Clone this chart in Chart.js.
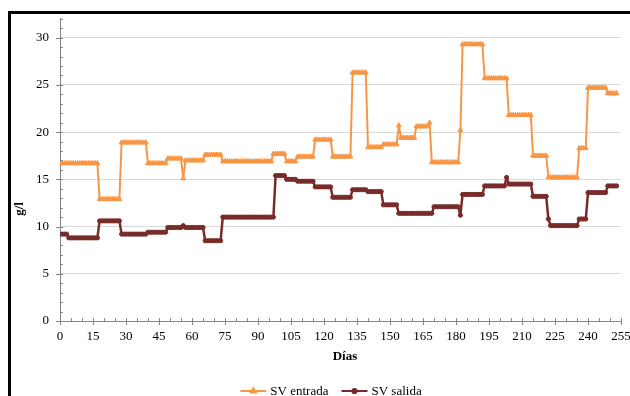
<!DOCTYPE html>
<html>
<head>
<meta charset="utf-8">
<script src="https://cdn.jsdelivr.net/npm/chart.js@4.4.1/dist/chart.umd.min.js"></script>
<style>
  html, body { margin: 0; padding: 0; background: #fff; }
  #wrap { position: relative; width: 630px; height: 396px; overflow: hidden; }
  #frame { position: absolute; left: 8px; top: 11px; width: 640px; height: 400px;
           border-left: 3px solid #000; border-top: 3px solid #000; box-sizing: border-box; }
  #c { position: absolute; left: 0; top: 0; }
</style>
</head>
<body>
<div id="wrap">
  <div id="frame"></div>
  <canvas id="c" width="630" height="396" style="width:630px;height:396px"></canvas>
</div>
<script>
// Días de operación
const dias = [
  0,1,2,3,4,5,6,7,8,9,10,11,12,13,14,15,16,17,18,19,
  20,21,22,23,24,25,26,27,28,29,30,31,32,33,34,35,36,37,38,39,
  40,41,42,43,44,45,46,47,48,49,50,51,52,53,54,55,56,57,58,59,
  60,61,62,63,64,65,66,67,68,69,70,71,72,73,74,75,76,77,78,79,
  80,81,82,83,84,85,86,87,88,89,90,91,92,93,94,95,96,97,98,99,
  100,101,102,103,104,105,106,107,108,109,110,111,112,113,114,115,116,117,118,119,
  120,121,122,123,124,125,126,127,128,129,130,131,132,133,134,135,136,137,138,139,
  140,141,142,143,144,145,146,147,148,149,150,151,152,153,154,155,156,157,158,159,
  160,161,162,163,164,165,166,167,168,169,170,171,172,173,174,175,176,177,178,179,
  180,181,182,183,184,185,186,187,188,189,190,191,192,193,194,195,196,197,198,199,
  200,201,202,203,204,205,206,207,208,209,210,211,212,213,214,215,216,217,218,219,
  220,221,222,223,224,225,226,227,228,229,230,231,232,233,234,235,236,237,238,239,
  240,241,242,243,244,245,246,247,248,249,250,251,252,253
];

// Sólidos volátiles a la entrada (g/l)
const svEntrada = [
  16.7,16.7,16.7,16.7,16.7,16.7,16.7,16.7,16.7,16.7,
  16.7,16.7,16.7,16.7,16.7,16.7,16.7,16.7,12.9,12.9,
  12.9,12.9,12.9,12.9,12.9,12.9,12.9,12.9,18.9,18.9,
  18.9,18.9,18.9,18.9,18.9,18.9,18.9,18.9,18.9,18.9,
  16.7,16.7,16.7,16.7,16.7,16.7,16.7,16.7,16.7,17.2,
  17.2,17.2,17.2,17.2,17.2,17.2,15.1,17.0,17.0,17.0,
  17.0,17.0,17.0,17.0,17.0,17.0,17.6,17.6,17.6,17.6,
  17.6,17.6,17.6,17.6,16.9,16.9,16.9,16.9,16.9,16.9,
  16.9,16.9,16.9,16.9,16.9,16.9,16.9,16.9,16.9,16.9,
  16.9,16.9,16.9,16.9,16.9,16.9,16.9,17.7,17.7,17.7,
  17.7,17.7,17.7,16.9,16.9,16.9,16.9,16.9,17.4,17.4,
  17.4,17.4,17.4,17.4,17.4,17.4,19.2,19.2,19.2,19.2,
  19.2,19.2,19.2,19.2,17.4,17.4,17.4,17.4,17.4,17.4,
  17.4,17.4,17.4,26.3,26.3,26.3,26.3,26.3,26.3,26.3,
  18.4,18.4,18.4,18.4,18.4,18.4,18.4,18.7,18.7,18.7,
  18.7,18.7,18.7,18.7,20.7,19.4,19.4,19.4,19.4,19.4,
  19.4,19.4,20.6,20.6,20.6,20.6,20.6,20.6,21.0,16.8,
  16.8,16.8,16.8,16.8,16.8,16.8,16.8,16.8,16.8,16.8,
  16.8,16.8,20.2,29.3,29.3,29.3,29.3,29.3,29.3,29.3,
  29.3,29.3,29.3,25.7,25.7,25.7,25.7,25.7,25.7,25.7,
  25.7,25.7,25.7,25.7,21.8,21.8,21.8,21.8,21.8,21.8,
  21.8,21.8,21.8,21.8,21.8,17.5,17.5,17.5,17.5,17.5,
  17.5,17.5,15.2,15.2,15.2,15.2,15.2,15.2,15.2,15.2,
  15.2,15.2,15.2,15.2,15.2,15.2,18.3,18.3,18.3,18.3,
  24.7,24.7,24.7,24.7,24.7,24.7,24.7,24.7,24.7,24.1,
  24.1,24.1,24.1,24.1
];

// Sólidos volátiles a la salida (g/l)
const svSalida = [
  9.2,9.2,9.2,9.2,8.8,8.8,8.8,8.8,8.8,8.8,
  8.8,8.8,8.8,8.8,8.8,8.8,8.8,8.8,10.6,10.6,
  10.6,10.6,10.6,10.6,10.6,10.6,10.6,10.6,9.2,9.2,
  9.2,9.2,9.2,9.2,9.2,9.2,9.2,9.2,9.2,9.2,
  9.4,9.4,9.4,9.4,9.4,9.4,9.4,9.4,9.4,9.9,
  9.9,9.9,9.9,9.9,9.9,9.9,10.1,9.9,9.9,9.9,
  9.9,9.9,9.9,9.9,9.9,9.9,8.5,8.5,8.5,8.5,
  8.5,8.5,8.5,8.5,11.0,11.0,11.0,11.0,11.0,11.0,
  11.0,11.0,11.0,11.0,11.0,11.0,11.0,11.0,11.0,11.0,
  11.0,11.0,11.0,11.0,11.0,11.0,11.0,11.0,15.4,15.4,
  15.4,15.4,15.4,15.0,15.0,15.0,15.0,15.0,14.8,14.8,
  14.8,14.8,14.8,14.8,14.8,14.8,14.2,14.2,14.2,14.2,
  14.2,14.2,14.2,14.2,13.1,13.1,13.1,13.1,13.1,13.1,
  13.1,13.1,13.1,13.9,13.9,13.9,13.9,13.9,13.9,13.9,
  13.7,13.7,13.7,13.7,13.7,13.7,13.7,12.3,12.3,12.3,
  12.3,12.3,12.3,12.3,11.4,11.4,11.4,11.4,11.4,11.4,
  11.4,11.4,11.4,11.4,11.4,11.4,11.4,11.4,11.4,11.4,
  12.1,12.1,12.1,12.1,12.1,12.1,12.1,12.1,12.1,12.1,
  12.1,12.1,11.2,13.4,13.4,13.4,13.4,13.4,13.4,13.4,
  13.4,13.4,13.4,14.3,14.3,14.3,14.3,14.3,14.3,14.3,
  14.3,14.3,14.3,15.2,14.5,14.5,14.5,14.5,14.5,14.5,
  14.5,14.5,14.5,14.5,14.5,13.2,13.2,13.2,13.2,13.2,
  13.2,13.2,10.8,10.1,10.1,10.1,10.1,10.1,10.1,10.1,
  10.1,10.1,10.1,10.1,10.1,10.1,10.8,10.8,10.8,10.8,
  13.6,13.6,13.6,13.6,13.6,13.6,13.6,13.6,13.6,14.3,
  14.3,14.3,14.3,14.3
];

// Etiquetas de los ejes
const xTicks = [0,15,30,45,60,75,90,105,120,135,150,165,180,195,210,225,240,255];
const yTicks = [0,5,10,15,20,25,30];
const xMinorStep = 5;
const yMinorStep = 1;

const SERIF = '"Liberation Serif", "Times New Roman", serif';
const AXIS_GREY = '#868686';

// Marcas de graduación, títulos de ejes y leyenda
const decor = {
  id: 'decor',
  afterDraw(chart) {
    const ctx = chart.ctx;
    const xs = chart.scales.x, ys = chart.scales.y;
    const area = chart.chartArea;
    ctx.save();
    ctx.strokeStyle = AXIS_GREY;
    ctx.lineWidth = 1;
    // eje Y
    for (let v = ys.min; v <= ys.max; v += yMinorStep) {
      const py = Math.round(ys.getPixelForValue(v)) + 0.5;
      const major = yTicks.includes(v);
      ctx.beginPath();
      ctx.moveTo(area.left - (major ? 4 : 0), py);
      ctx.lineTo(area.left + 3, py);
      ctx.stroke();
    }
    // eje X
    for (let v = xs.min; v <= xs.max; v += xMinorStep) {
      const px = Math.round(xs.getPixelForValue(v)) + 0.5;
      const major = xTicks.includes(v);
      ctx.beginPath();
      ctx.moveTo(px, area.bottom - 3);
      ctx.lineTo(px, area.bottom + (major ? 4 : 0));
      ctx.stroke();
    }

    // títulos
    ctx.fillStyle = '#000';
    ctx.font = 'bold 13px ' + SERIF;
    ctx.textAlign = 'center';
    ctx.textBaseline = 'middle';
    ctx.fillText('Días', 345, 357);
    ctx.save();
    ctx.translate(20, 209);
    ctx.rotate(-Math.PI / 2);
    ctx.fillText('g/l', 0, 0);
    ctx.restore();

    // leyenda
    ctx.font = '13px ' + SERIF;
    ctx.textAlign = 'left';
    const items = chart.data.datasets;
    const lineLen = 26, gapText = 4, gapItems = 13;
    const widths = items.map(d => ctx.measureText(d.label).width);
    let total = 0;
    widths.forEach((w, i) => { total += lineLen + gapText + w + (i < widths.length - 1 ? gapItems : 0); });
    let x = 331 - total / 2;
    const y = 391;
    items.forEach((d, i) => {
      ctx.strokeStyle = d.borderColor;
      ctx.lineWidth = 2;
      ctx.beginPath();
      ctx.moveTo(x, y);
      ctx.lineTo(x + lineLen, y);
      ctx.stroke();
      ctx.fillStyle = d.pointBackgroundColor;
      ctx.strokeStyle = d.pointBorderColor;
      Chart.helpers.drawPoint(ctx, { pointStyle: d.pointStyle, radius: d.pointRadius, borderWidth: 1, rotation: 0 }, x + lineLen / 2, y);
      ctx.fillStyle = '#000';
      ctx.fillText(d.label, x + lineLen + gapText, y + 0.5);
      x += lineLen + gapText + widths[i] + gapItems;
    });
    ctx.restore();
  }
};

const toPoints = vals => dias.map((d, i) => ({ x: d, y: vals[i] }));

new Chart(document.getElementById('c'), {
  type: 'line',
  data: {
    datasets: [
      {
        label: 'SV entrada',
        data: toPoints(svEntrada),
        borderColor: '#F79646',
        backgroundColor: '#F79646',
        pointBackgroundColor: '#F79646',
        pointBorderColor: '#F79646',
        borderWidth: 2,
        borderJoinStyle: 'round',
        borderCapStyle: 'round',
        pointStyle: 'triangle',
        pointRadius: 2.8,
        pointBorderWidth: 1,
        tension: 0
      },
      {
        label: 'SV salida',
        data: toPoints(svSalida),
        borderColor: '#772C2A',
        backgroundColor: '#772C2A',
        pointBackgroundColor: '#772C2A',
        pointBorderColor: '#772C2A',
        borderWidth: 2.5,
        borderJoinStyle: 'round',
        borderCapStyle: 'round',
        pointStyle: 'circle',
        pointRadius: 2.1,
        pointBorderWidth: 1,
        tension: 0
      }
    ]
  },
  options: {
    responsive: false,
    animation: false,
    events: [],
    layout: { padding: { left: 0, top: 18, right: 9, bottom: 45 } },
    plugins: { legend: { display: false }, tooltip: { enabled: false } },
    scales: {
      x: {
        type: 'linear',
        min: 0,
        max: 255,
        afterBuildTicks: s => { s.ticks = xTicks.map(v => ({ value: v })); },
        afterFit: s => { s.height = 30; s.paddingLeft = 0; s.paddingRight = 0; },
        ticks: {
          autoSkip: false, maxRotation: 0, minRotation: 0, padding: 8,
          color: '#000', font: { family: SERIF, size: 13 }
        },
        grid: { drawOnChartArea: false, drawTicks: false },
        border: { display: true, color: AXIS_GREY, width: 1 }
      },
      y: {
        min: 0,
        max: 32,
        afterBuildTicks: s => { s.ticks = yTicks.map(v => ({ value: v })); },
        afterFit: s => { s.width = 60; },
        ticks: { padding: 11, color: '#000', font: { family: SERIF, size: 13 } },
        grid: { color: '#d9d9d9', lineWidth: 1, drawTicks: false },
        border: { display: true, color: AXIS_GREY, width: 1 }
      }
    }
  },
  plugins: [decor]
});
</script>
</body>
</html>
